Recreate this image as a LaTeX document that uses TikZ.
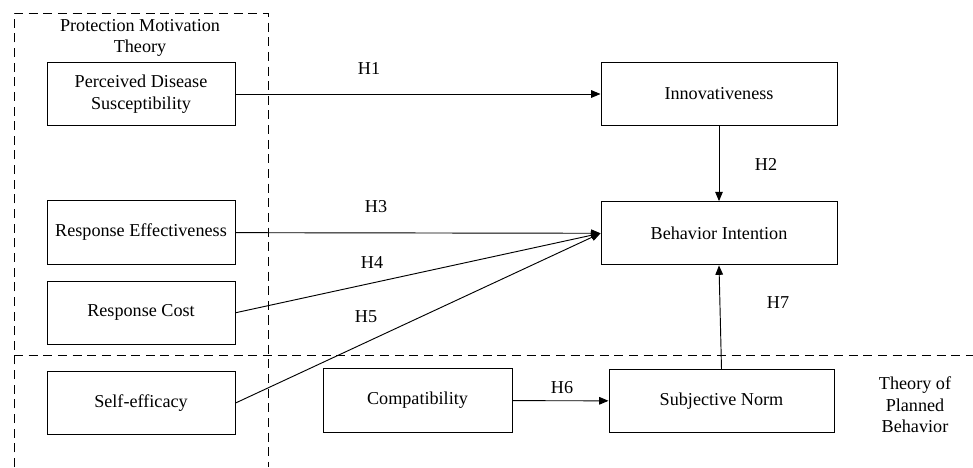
\documentclass[tikz,border=0pt]{standalone}
\usepackage{fontspec}
\setmainfont{Liberation Serif}
\usepackage{tikz}
\usetikzlibrary{positioning,arrows.meta}

\tikzset{
    construct/.style={
        rectangle,
        draw=black,
        line width=0.8pt,
        align=center,
        minimum width=5.64cm,
        minimum height=1.9cm,
        inner sep=2pt,
    },
    wide construct/.style={
        construct,
        minimum width=7.08cm,
    },
    theory frame/.style={
        draw=black,
        line width=0.8pt,
        dash pattern=on 7.7pt off 4.8pt,
    },
    theory label/.style={
        align=center,
        inner sep=0pt,
    },
    hyp/.style={
        inner sep=1pt,
    },
    connector/.style={
        -{Triangle[length=8pt,width=6.5pt]},
        line width=0.8pt,
    },
}

\begin{document}
\begin{tikzpicture}[x=0.03cm,y=-0.03cm,font=\fontsize{15.5pt}{18.5pt}\selectfont]
        \useasboundingbox (0,0) rectangle (973,467);
        % theory frames
        \draw[theory frame] (14,467) |- (268,13) -- (268,467);
        \draw[theory frame] (14,355) -- (973,355);
        \node[theory label](pmt) at (140,38) {Protection Motivation\\Theory};
        \node[theory label](tpb) at (915,405) {Theory of\\Planned\\Behavior};
        % constructs
        \node[construct](pds) at (141,94) {Perceived Disease\\Susceptibility};
        \node[construct](re) at (141,232.5) {Response Effectiveness};
        \node[construct,below=0.48cm of re](rc) {Response Cost};
        \node[construct,below=0.78cm of rc](se) {Self-efficacy};
        \node[wide construct](innov) at (719,94) {Innovativeness};
        \node[wide construct,below=2.25cm of innov](bi) {Behavior Intention};
        \node[construct,minimum width=5.67cm](compat) at (417.5,400.5) {Compatibility};
        \node[construct,minimum width=6.75cm](sn) at (721.5,401) {Subjective Norm};
        % paths
        \draw[connector] (pds) -- (innov);
        \draw[connector] (innov) -- (bi);
        \draw[connector] (re) -- (bi.west);
        \draw[connector] (rc.east) -- (bi.west);
        \draw[connector] (se.east) -- (bi.west);
        \draw[connector] (compat) -- (sn);
        \draw[connector] (sn.north) -- (bi.south);
        % hypotheses
        \node[hyp](h1) at (369,69) {H1};
        \node[hyp](h2) at (766,164) {H2};
        \node[hyp](h3) at (376,207) {H3};
        \node[hyp](h4) at (372,263) {H4};
        \node[hyp](h5) at (366,317) {H5};
        \node[hyp](h6) at (562,388) {H6};
        \node[hyp](h7) at (778,303) {H7};
    \end{tikzpicture}
\end{document}
